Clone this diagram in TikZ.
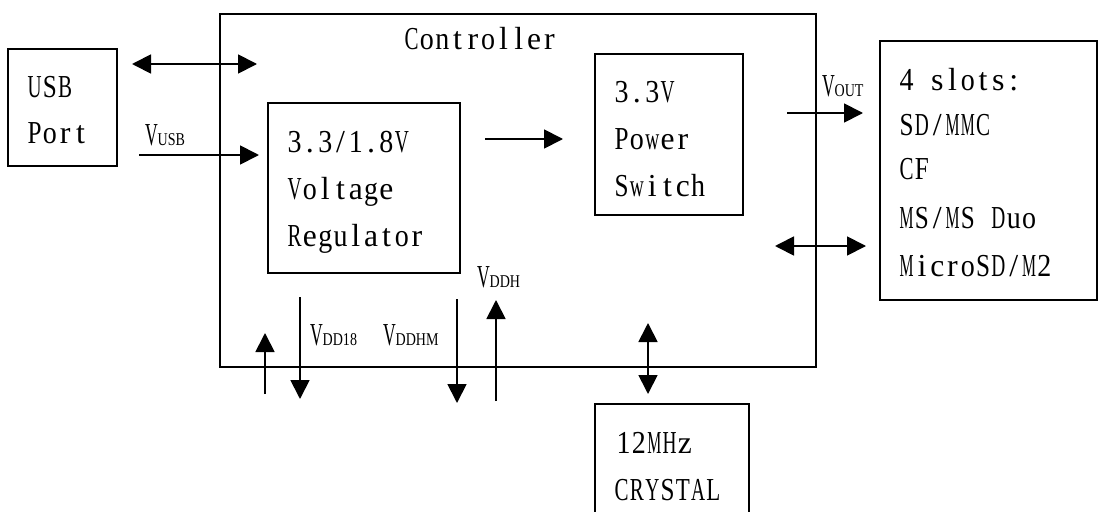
\documentclass[tikz,border=0pt]{standalone}
\usepackage{fontspec}
\usepackage{graphicx}
\usetikzlibrary{arrows.meta}
\setmainfont{Liberation Serif}
\newfontfamily\vfont[FakeStretch=0.55]{Liberation Serif}
\newfontfamily\sfontx[FakeStretch=0.78]{Liberation Serif}
\makeatletter
\newlength\mcw
\newcommand\mcell[1]{\settowidth\mcw{#1}%
  \ifdim\mcw>14pt\relax\pgfmathsetmacro\mcf{14/\mcw}\makebox[15.3pt][c]{\scalebox{\mcf}[1]{#1}}%
  \else\makebox[15.3pt][c]{#1}\fi}
\newcommand\mono[1]{\@tfor\mc@c:=#1\do{\expandafter\mcell\expandafter{\mc@c}}}
\makeatother
\newcommand\vlab[2]{{\vfont\fontsize{32}{36}\selectfont #1}{\sfontx\fontsize{18}{18}\selectfont #2}}
\tikzset{
  box/.style={draw, line width=1.6pt, rectangle, inner sep=0pt, outer sep=0pt},
  txt/.style={anchor=base west, inner sep=0pt, outer sep=0pt, font=\fontsize{32}{36}\selectfont},
  lbl/.style={anchor=base west, inner sep=0pt, outer sep=0pt},
  arr/.style={line width=1.8pt, -{Triangle[length=19pt,width=19pt]}},
  dbl/.style={line width=1.8pt, {Triangle[length=19pt,width=19pt]}-{Triangle[length=19pt,width=19pt]}}
}
\begin{document}
\begin{tikzpicture}[x=1pt,y=-1pt]
\useasboundingbox (0,0) rectangle (1102,511);
\clip (0,0) rectangle (1102,511);
% boxes
\node[box, minimum width=596pt, minimum height=353pt] (ctrl) at (518,190.5) {};
\node[box, minimum width=109pt, minimum height=117pt] (usb) at (62.5,107.5) {};
\node[box, minimum width=192pt, minimum height=170pt] (reg) at (364,188) {};
\node[box, minimum width=148pt, minimum height=161pt] (psw) at (669,134.5) {};
\node[box, minimum width=217pt, minimum height=259pt] (slots) at (988.5,170.5) {};
\node[box, minimum width=154pt, minimum height=136pt] (xtal) at (672,472) {};
% texts
\node[txt] (tctrl) at (404,50) {\mono{Controller}};
\node[txt] (tusb1) at (27,97) {\mono{USB}};
\node[txt] (tusb2) at (27,143) {\mono{Port}};
\node[txt] (treg1) at (287,152) {\mono{3.3/1.8V}};
\node[txt] (treg2) at (287,199) {\mono{Voltage}};
\node[txt] (treg3) at (287,246) {\mono{Regulator}};
\node[txt] (tpsw1) at (614,102) {\mono{3.3V}};
\node[txt] (tpsw2) at (614,149) {\mono{Power}};
\node[txt] (tpsw3) at (614,196) {\mono{Switch}};
\node[txt] (ts1) at (899,90) {\mono{4~slots:}};
\node[txt] (ts2) at (899,135) {\mono{SD/MMC}};
\node[txt] (ts3) at (899,179) {\mono{CF}};
\node[txt] (ts4) at (899,228) {\mono{MS/MS~Duo}};
\node[txt] (ts5) at (899,276) {\mono{MicroSD/M2}};
\node[txt] (tx1) at (616,453) {\mono{12MHz}};
\node[txt] (tx2) at (614,500) {\mono{CRYSTAL}};
% labels
\node[lbl] (lvusb) at (145,145) {\vlab{V}{USB}};
\node[lbl] (lvout) at (822,96) {\vlab{V}{OUT}};
\node[lbl] (lvdd18) at (310,345) {\vlab{V}{DD18}};
\node[lbl] (lvddhm) at (383,345) {\vlab{V}{DDHM}};
\node[lbl] (lvddh) at (477,287) {\vlab{V}{DDH}};
% connector ends
\coordinate (a1) at (132,64);  \coordinate (a2) at (257,64);
\coordinate (b1) at (139,155); \coordinate (b2) at (259,155);
\coordinate (c1) at (485,139); \coordinate (c2) at (563,139);
\coordinate (d1) at (787,113); \coordinate (d2) at (863,113);
\coordinate (e1) at (775,246); \coordinate (e2) at (866,246);
\coordinate (f1) at (265,394); \coordinate (f2) at (265,333);
\coordinate (g1) at (300,297); \coordinate (g2) at (300,399);
\coordinate (h1) at (457,299); \coordinate (h2) at (457,403);
\coordinate (i1) at (496,401); \coordinate (i2) at (496,300);
\coordinate (j1) at (648,323); \coordinate (j2) at (648,394);
% connectors
\draw[dbl] (a1) -- (a2);
\draw[arr] (b1) -- (b2);
\draw[arr] (c1) -- (c2);
\draw[arr] (d1) -- (d2);
\draw[dbl] (e1) -- (e2);
\draw[arr] (f1) -- (f2);
\draw[arr] (g1) -- (g2);
\draw[arr] (h1) -- (h2);
\draw[arr] (i1) -- (i2);
\draw[dbl] (j1) -- (j2);
\end{tikzpicture}
\end{document}
